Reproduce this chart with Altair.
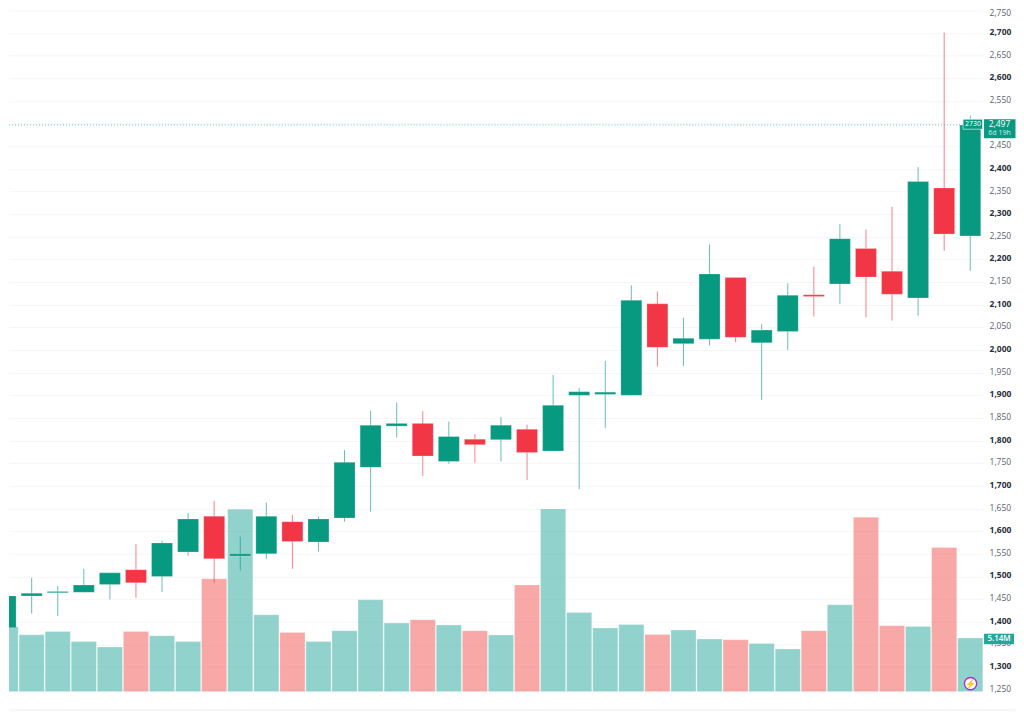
import altair as alt
import pandas as pd

opens  = [1387,1457,1464,1465,1482,1515,1500,1554,1633,1545,1550,1621,1576,1629,1741,1832,1838,1754,1803,1802,1825,1777,1900,1902,1900,2102,2014,2024,2160,2016,2041,2122,2146,2224,2174,2115,2358,2252]
highs  = [1471,1497,1479,1517,1508,1572,1579,1640,1667,1588,1663,1636,1632,1779,1866,1884,1865,1842,1814,1852,1835,1945,1916,1976,2143,2129,2071,2233,2160,2057,2147,2184,2278,2266,2316,2404,2701,2518]
lows   = [1376,1418,1413,1465,1449,1453,1466,1546,1486,1513,1539,1517,1555,1621,1643,1807,1722,1749,1751,1754,1713,1777,1693,1828,1900,1963,1965,2010,2017,1890,2000,2074,2102,2072,2065,2076,2219,2175]
closes = [1457,1463,1467,1481,1508,1486,1574,1627,1539,1550,1633,1577,1627,1752,1834,1838,1766,1809,1791,1834,1774,1878,1908,1907,2110,2006,2026,2168,2028,2044,2121,2118,2246,2161,2123,2372,2256,2497]
volumes = [6.22,5.45,5.77,4.81,4.28,5.77,5.36,4.81,10.81,17.48,7.37,5.68,4.81,5.84,8.80,6.57,6.89,6.38,5.84,5.43,10.21,17.51,7.59,6.10,6.44,5.48,5.90,5.04,4.98,4.62,4.09,5.84,8.33,16.72,6.32,6.25,13.81,5.14]
tick_pos = list(range(1, 38, 2))
tick_labels = ["7月","9月","11月","2024","3月","5月","7月","9月","11月","2025","3月","5月","7月","9月","11月","2026","3月","5月","7月"]
price_ticks = list(range(1250, 2751, 50))

df = pd.DataFrame({"i": range(38), "o": opens, "h": highs, "l": lows, "c": closes, "v": volumes})
df["top"] = df[["o", "c"]].max(axis=1)
df["bot"] = df[["o", "c"]].min(axis=1)
df["dir"] = ["up" if c >= o else "down" for o, c in zip(opens, closes)]

FONT = "Open Sans, Noto Sans CJK SC, sans-serif"
GRID = "#f6f6f8"
UP, DOWN = "#089981", "#f23645"

x_scale = alt.Scale(domain=[0.13, 37.49], nice=False, zero=False, padding=0)
p_scale = alt.Scale(domain=[1245.6, 2754.5], nice=False, zero=False)
v_scale = alt.Scale(domain=[0, 65.46], nice=False, zero=False)
c_scale = alt.Scale(domain=["up", "down"], range=[UP, DOWN])
vc_scale = alt.Scale(domain=["up", "down"], range=["#26a69a", "#ef5350"])

label_expr = "[" + ",".join(f"'{t}'" for t in tick_labels) + "][(datum.value-1)/2]"
x_axis = alt.Axis(values=tick_pos, labelExpr=label_expr, title=None, domain=False, ticks=False,
                  grid=True, gridColor=GRID, gridWidth=1, labelFont=FONT, labelFontSize=8.5,
                  labelPadding=5, labelOverlap=False, labelBound=False, labelFlush=False,
                  labelColor={"condition": {"test": "(datum.value-1) % 12 == 6", "value": "#2a2e39"}, "value": "#50535e"},
                  labelFontWeight={"condition": {"test": "(datum.value-1) % 12 == 6", "value": 700}, "value": 500})
y_axis = alt.Axis(values=price_ticks, labelExpr="datum.value == 2500 ? '' : format(datum.value, ',.0f')",
                  title=None, orient="right", domain=False, ticks=False,
                  grid=True, gridColor=GRID, gridWidth=1, labelFont=FONT, labelFontSize=8.5,
                  labelPadding=6, labelOffset=-1.5, labelOverlap=False, labelBound=False, labelFlush=False,
                  labelBaseline={"condition": {"test": "datum.value == 2750", "value": "top"}, "value": "middle"},
                  labelColor={"condition": {"test": "datum.value % 100 == 0", "value": "#2a2e39"}, "value": "#5d606b"},
                  labelFontWeight={"condition": {"test": "datum.value % 100 == 0", "value": 700}, "value": 500})

base = alt.Chart(df)

vol = base.mark_bar(size=25.2, clip=True, opacity=0.5, stroke="#ffffff", strokeOpacity=0.5, strokeWidth=0.5).encode(
    x=alt.X("i:Q", scale=x_scale, axis=x_axis),
    y=alt.Y("v:Q", scale=v_scale, axis=None, stack=None),
    color=alt.Color("dir:N", scale=vc_scale, legend=None),
)
wick = base.mark_rule(clip=True, strokeWidth=1, opacity=0.62).encode(
    x=alt.X("i:Q", scale=x_scale, axis=None),
    y=alt.Y("l:Q", scale=p_scale, axis=y_axis),
    y2="h:Q",
    color=alt.Color("dir:N", scale=c_scale, legend=None),
)
body = base.mark_bar(size=21, clip=True, orient="vertical", stroke="#ffffff", strokeOpacity=0.45, strokeWidth=0.5).encode(
    x=alt.X("i:Q", scale=x_scale, axis=None),
    y=alt.Y("bot:Q", scale=p_scale, axis=None),
    y2="top:Q",
    color=alt.Color("dir:N", scale=c_scale, legend=None),
)
last_line = alt.Chart(df[df.i == 37]).mark_rule(strokeDash=[1, 2], strokeWidth=1, color=UP, opacity=0.6).encode(
    y=alt.Y("c:Q", scale=p_scale, axis=None),
    x=alt.value(0), x2=alt.value(955),
)


def box(x1, x2, y1, y2, fill, **kw):
    return alt.Chart().mark_rect(fill=fill, **kw).encode(
        x=alt.value(x1), x2=alt.value(x2), y=alt.value(y1), y2=alt.value(y2))


def label(txt, x, y, size=9.5, color="#ffffff", **kw):
    return alt.Chart().mark_text(text=txt, font=FONT, fontSize=size, color=color, align="center", baseline="middle", **kw).encode(
        x=alt.value(x), y=alt.value(y))


overlays = [
    box(955, 974.5, 111, 121, UP, stroke="#ffffff", strokeWidth=0.6),
    label("2730", 965, 116, 7),
    box(976, 1007.5, 111, 130, UP),
    label("2,497", 991.5, 116, 8.5),
    label("6d 19h", 991.5, 124.5, 7, "#d4eee9"),
    box(976, 1006, 626, 636.5, "#26a69a"),
    label("5.14M", 991, 631, 8, fontWeight=600),
    alt.Chart().mark_point(filled=True, fill="#ffffff", stroke="#a92fd3", strokeWidth=1.4, opacity=1, shape="circle", size=150).encode(
        x=alt.value(962.5), y=alt.value(676)),
    label("⚡", 962.5, 676, 9, "#a92fd3"),
    box(0, 1007.5, 701, 703.5, "#f7f7f8"),
]

chart = alt.layer(vol, wick, body, last_line, *overlays).resolve_scale(
    y="independent", color="independent"
).properties(width=975, height=684, padding=0, background="#ffffff").configure_view(stroke=None)

chart.save("out.html", embed_options={"renderer": "svg", "actions": False})
